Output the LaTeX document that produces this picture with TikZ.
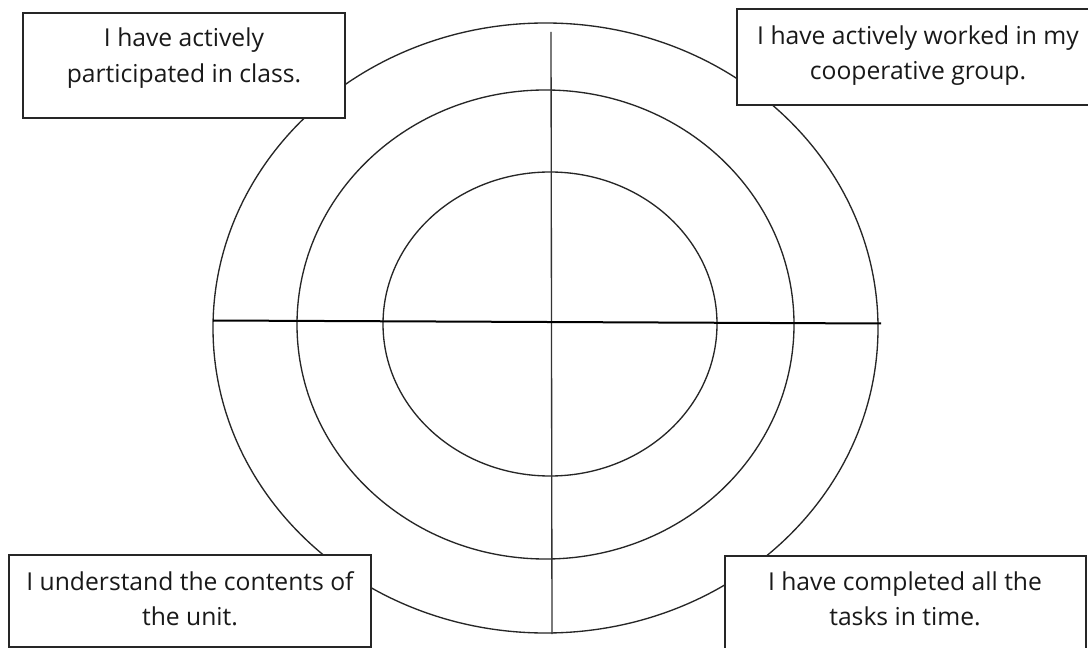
\documentclass[tikz,border=0pt]{standalone}
\usepackage{fontspec}
\setmainfont{Open Sans}
\begin{document}
\begin{tikzpicture}[x=0.75pt,y=-0.75pt,
  ring/.style={draw=black!85, line width=1pt},
  vaxis/.style={draw=black!80, line width=1pt},
  haxis/.style={draw=black, line width=1.5pt},
  boxstyle/.style={draw=black!85, line width=1pt, fill=white},
  lbl/.style={font=\fontsize{18.5}{26}\selectfont, inner sep=0pt, anchor=base, text=black!90}]
\useasboundingbox (0,0) rectangle (1088,648);
\clip (0,0) rectangle (1088,648);
\fill[white] (0,0) rectangle (1088,648);
% rings
\draw[ring] (545.5,328) ellipse [x radius=332.5, y radius=305];
\draw[ring] (545.5,324.5) ellipse [x radius=248.5, y radius=234.5];
\draw[ring] (550,324) ellipse [x radius=167, y radius=152];
% axes
\coordinate (hl) at (213,320.5);
\coordinate (hr) at (881,323.5);
\coordinate (vt) at (551,32);
\coordinate (vb) at (552,634);
\draw[vaxis] (vt) -- (vb);
\draw[haxis] (hl) -- (hr);
% boxes
\draw[boxstyle] (23,13) rectangle (345,118);
\draw[boxstyle] (737,9) rectangle (1100,105);
\draw[boxstyle] (9,555) rectangle (371,647);
\draw[boxstyle] (725,556) rectangle (1086,670);
% texts
\node[lbl] (t1a) at (184,47) {I have actively};
\node[lbl] (t1b) at (184,83) {participated in class.};
\node[lbl] (t2a) at (918,45) {I have actively worked in my};
\node[lbl] (t2b) at (918,80) {cooperative group.};
\node[lbl] (t3a) at (190,590) {I understand the contents of};
\node[lbl] (t3b) at (190,625) {the unit.};
\node[lbl] (t4a) at (905,590) {I have completed all the};
\node[lbl] (t4b) at (905,625) {tasks in time.};
\end{tikzpicture}
\end{document}
